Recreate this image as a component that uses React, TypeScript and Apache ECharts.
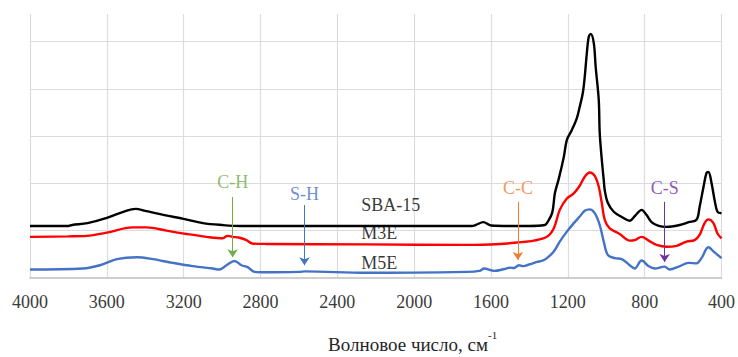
import React, { useEffect, useRef } from "react";
import * as echarts from "echarts";

// ---------- data ----------
const seriesNames = ["SBA-15", "M3E", "M5E"];
const seriesColors = ["#000000", "#ff0000", "#4472c4"];

const sbaWn = [4000, 3800, 3780, 3700, 3600, 3500, 3450, 3400, 3300, 3200, 3100, 3000, 2900, 2400, 2000, 1700, 1680, 1640, 1600, 1500, 1400, 1320, 1309, 1282, 1267, 1247, 1221, 1205, 1179, 1153, 1138, 1122, 1112, 1101, 1091, 1081, 1065, 1055, 1039, 1034, 1023, 1013, 1008, 992, 961, 919, 878, 847, 816, 790, 764, 727, 686, 618, 571, 530, 514, 494, 478, 468, 452, 436, 421, 400];
const sbaAbs = [1.10, 1.10, 1.12, 1.16, 1.27, 1.42, 1.46, 1.42, 1.33, 1.25, 1.16, 1.12, 1.10, 1.10, 1.10, 1.10, 1.12, 1.18, 1.11, 1.10, 1.10, 1.12, 1.16, 1.37, 1.80, 2.10, 2.56, 2.92, 3.13, 3.38, 3.62, 3.91, 4.25, 4.76, 5.10, 5.16, 4.97, 4.46, 3.76, 3.07, 2.49, 2.07, 1.86, 1.59, 1.40, 1.29, 1.21, 1.33, 1.44, 1.33, 1.18, 1.10, 1.08, 1.12, 1.18, 1.23, 1.50, 1.92, 2.22, 2.24, 2.01, 1.65, 1.40, 1.37];

const m3eWn = [4000, 3800, 3704, 3600, 3465, 3393, 3289, 3185, 3081, 2997, 2971, 2945, 2909, 2873, 2842, 2769, 2249, 1725, 1553, 1465, 1377, 1309, 1273, 1242, 1205, 1169, 1138, 1112, 1086, 1060, 1039, 1023, 1008, 982, 930, 878, 852, 816, 779, 738, 686, 634, 582, 540, 514, 488, 468, 442, 421, 400];
const m3eAbs = [0.87, 0.88, 0.89, 0.96, 1.07, 1.07, 1.00, 0.93, 0.87, 0.84, 0.89, 0.87, 0.85, 0.80, 0.73, 0.72, 0.71, 0.70, 0.72, 0.75, 0.79, 0.87, 1.05, 1.44, 1.68, 1.79, 1.95, 2.14, 2.23, 2.16, 1.93, 1.58, 1.23, 1.05, 0.93, 0.79, 0.80, 0.87, 0.79, 0.70, 0.66, 0.68, 0.77, 0.80, 0.91, 1.16, 1.24, 1.16, 0.94, 0.84];

const m5eWn = [4000, 3725, 3636, 3548, 3444, 3361, 3257, 3153, 3049, 3013, 2977, 2935, 2899, 2867, 2831, 2769, 2597, 2570, 2249, 1725, 1660, 1636, 1584, 1530, 1501, 1480, 1455, 1435, 1413, 1390, 1361, 1335, 1309, 1273, 1242, 1205, 1169, 1138, 1112, 1086, 1060, 1034, 1013, 992, 956, 919, 878, 852, 816, 779, 748, 696, 670, 623, 571, 530, 504, 468, 436, 400];
const m5eAbs = [0.18, 0.20, 0.27, 0.40, 0.44, 0.40, 0.32, 0.25, 0.20, 0.18, 0.27, 0.36, 0.27, 0.23, 0.13, 0.12, 0.13, 0.14, 0.11, 0.13, 0.15, 0.20, 0.15, 0.19, 0.22, 0.21, 0.27, 0.25, 0.27, 0.30, 0.34, 0.36, 0.42, 0.56, 0.77, 0.98, 1.16, 1.30, 1.42, 1.45, 1.37, 1.12, 0.77, 0.49, 0.42, 0.40, 0.27, 0.20, 0.37, 0.25, 0.20, 0.24, 0.18, 0.24, 0.32, 0.31, 0.42, 0.65, 0.54, 0.42];

const gridValues = [1, 2, 3, 4, 5];

const labelWn = 2275;
const labelLevels = [1.54, 0.95, 0.32];

const annotationTexts = ["C-H", "S-H", "C-C", "C-S"];
const annotationColors = ["#70ad47", "#4472c4", "#ed7d31", "#7030a0"];
const annotationWn = [2945, 2571, 1460, 696];
const annotationTextLevel = [2.03, 1.78, 1.9, 1.9];
const annotationArrowTop = [1.71, 1.54, 1.61, 1.61];
const annotationArrowTip = [0.44, 0.27, 0.38, 0.34];

const xTitle = "Волновое число, см";
const xTitleSup = "-1";

// ---------- component ----------
const FONT = "Liberation Serif";

function zip(a: number[], b: number[]) {
  return a.map((v, i) => [v, b[i]]);
}

export default function App() {
  const ref = useRef<HTMLDivElement>(null);

  useEffect(() => {
    if (!ref.current) return;
    const chart = echarts.init(ref.current, undefined, { renderer: "svg" });

    const spectra = [zip(sbaWn, sbaAbs), zip(m3eWn, m3eAbs), zip(m5eWn, m5eAbs)];

    const lineSeries = spectra.map((d, i) => ({
      type: "line",
      name: seriesNames[i],
      data: d,
      showSymbol: false,
      smooth: 0.35,
      lineStyle: { color: seriesColors[i], width: 2.4 },
      z: 3,
      silent: true,
    }));

    const option: any = {
      animation: false,
      backgroundColor: "#ffffff",
      grid: { left: 30, right: 15, top: 14, bottom: 79 },
      xAxis: {
        type: "value",
        inverse: true,
        min: 400,
        max: 4000,
        interval: 400,
        axisLine: { show: true, lineStyle: { color: "#bfbfbf", width: 1.5 } },
        axisTick: { show: false },
        axisLabel: {
          margin: 15,
          color: "#3a3a3a",
          fontFamily: FONT,
          fontSize: 18,
          formatter: (v: number) => String(v),
        },
        splitLine: { show: true, lineStyle: { color: "#dcdcdc", width: 1.2 } },
      },
      yAxis: {
        type: "value",
        min: 0,
        max: 5.58,
        show: false,
        splitLine: { show: false },
      },
      series: [
        {
          type: "line",
          name: "grid",
          data: [],
          silent: true,
          z: 1,
          markLine: {
            silent: true,
            z: 1,
            symbol: ["none", "none"],
            label: { show: false },
            lineStyle: { color: "#dcdcdc", width: 1.2, type: "solid" },
            data: gridValues.map((v) => ({ yAxis: v })),
          },
        },
        ...lineSeries,
        {
          type: "line",
          name: "arrows",
          data: [],
          silent: true,
          z: 4,
          markLine: {
            silent: true,
            z: 4,
            symbol: ["none", "arrow"],
            symbolSize: 8,
            label: { show: false },
            data: annotationWn.map((wn, i) => [
              { coord: [wn, annotationArrowTop[i]], lineStyle: { color: annotationColors[i], width: 1, type: "solid" }, itemStyle: { color: annotationColors[i] } },
              { coord: [wn, annotationArrowTip[i]] },
            ]),
          },
        },
        {
          type: "scatter",
          name: "annotations",
          symbolSize: 0,
          silent: true,
          z: 5,
          data: annotationWn.map((wn, i) => ({
            value: [wn, annotationTextLevel[i]],
            label: {
              show: true,
              position: "inside",
              formatter: annotationTexts[i],
              color: annotationColors[i],
              fontFamily: FONT,
              fontSize: 18,
            },
          })),
        },
        {
          type: "scatter",
          name: "seriesLabels",
          symbolSize: 0,
          silent: true,
          z: 5,
          data: seriesNames.map((n, i) => ({
            value: [labelWn, labelLevels[i]],
            label: {
              show: true,
              position: "inside",
              align: "left",
              formatter: n,
              color: "#000000",
              fontFamily: FONT,
              fontSize: 18,
            },
          })),
        },
      ],
      graphic: [
        {
          type: "text",
          x: 488,
          y: 344,
          style: {
            text: xTitle,
            align: "right",
            verticalAlign: "middle",
            fontFamily: FONT,
            fontSize: 19,
            fill: "#262626",
          },
        },
        {
          type: "text",
          x: 488,
          y: 335,
          style: {
            text: xTitleSup,
            align: "left",
            verticalAlign: "middle",
            fontFamily: FONT,
            fontSize: 11,
            fill: "#262626",
          },
        },
      ],
    };

    chart.setOption(option);
    return () => chart.dispose();
  }, []);

  return <div ref={ref} style={{ position: "absolute", left: 0, top: 0, width: 738, height: 357 }} />;
}
